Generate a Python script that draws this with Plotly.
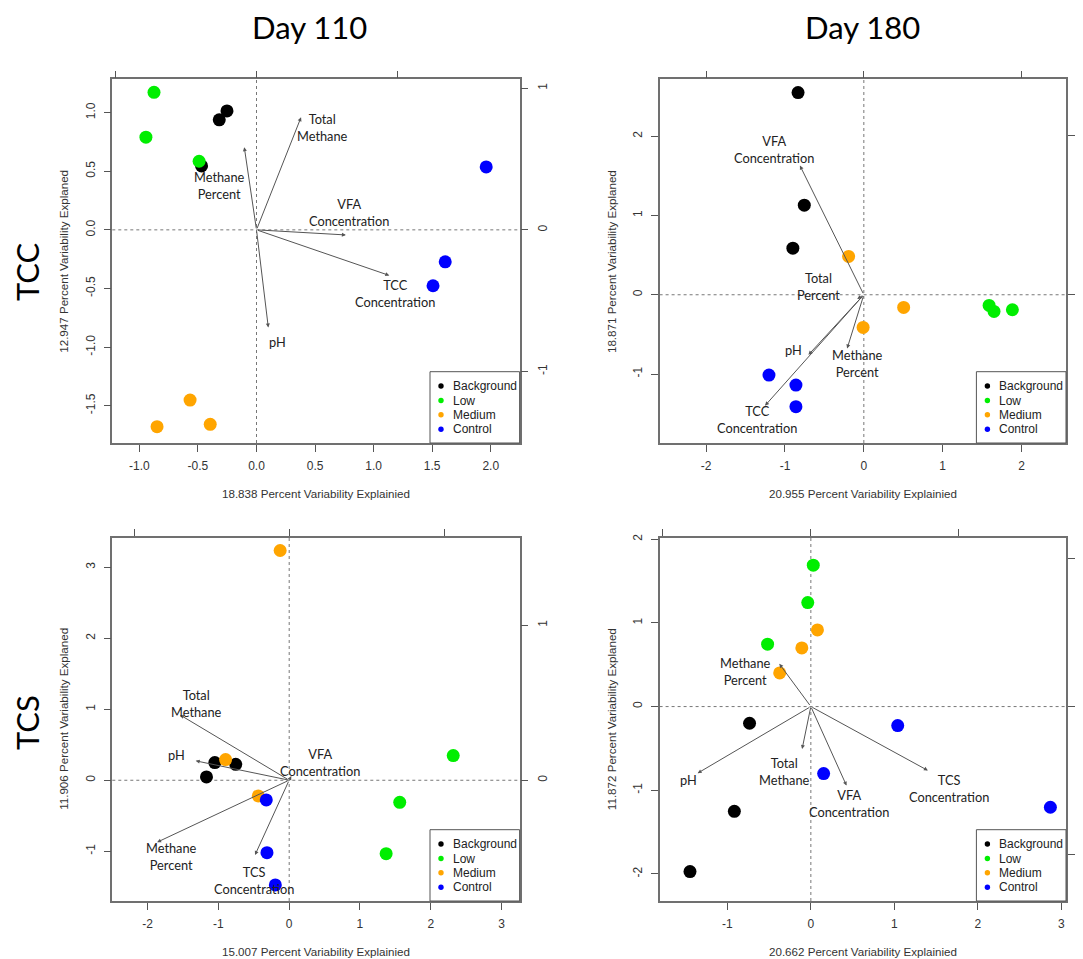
import plotly.graph_objects as go

# ---------------- data ----------------
groups = ["Background", "Low", "Medium", "Control"]
sample_group = ["Background"] * 3 + ["Low"] * 3 + ["Medium"] * 3 + ["Control"] * 3

# TCC, Day 110 (sample scores)
tcc110_pc1 = [-0.252, -0.318, -0.469, -0.875, -0.944, -0.490, -0.567, -0.849, -0.395, 1.961, 1.611, 1.507]
tcc110_pc2 = [1.014, 0.938, 0.545, 1.173, 0.790, 0.585, -1.452, -1.679, -1.659, 0.537, -0.273, -0.477]
# TCC, Day 180
tcc180_pc1 = [-0.834, -0.755, -0.900, 1.589, 1.651, 1.884, -0.193, 0.505, -0.009, -1.203, -0.861, -0.861]
tcc180_pc2 = [2.550, 1.130, 0.588, -0.134, -0.210, -0.189, 0.483, -0.160, -0.412, -1.013, -1.139, -1.412]
# TCS, Day 110
tcs110_pc1 = [-1.051, -0.756, -1.169, 2.318, 1.562, 1.370, -0.128, -0.899, -0.437, -0.324, -0.314, -0.196]
tcs110_pc2 = [0.249, 0.225, 0.047, 0.347, -0.310, -1.033, 3.235, 0.291, -0.221, -0.277, -1.019, -1.474]
# TCS, Day 180
tcs180_pc1 = [-0.734, -0.916, -1.447, 0.029, -0.037, -0.518, 0.079, -0.108, -0.373, 1.040, 0.153, 2.868]
tcs180_pc2 = [-0.199, -1.251, -1.972, 1.689, 1.243, 0.745, 0.916, 0.701, 0.402, -0.227, -0.801, -1.203]

# variable loadings (secondary top/right axes)
tcc110_vars = ["Total<br>Methane", "Methane<br>Percent", "VFA<br>Concentration", "TCC<br>Concentration", "pH"]
tcc110_load1 = [0.317, -0.087, 0.636, 0.945, 0.084]
tcc110_load2 = [0.795, 0.584, -0.036, -0.322, -0.689]

tcc180_vars = ["Total<br>Percent", "Methane<br>Percent", "VFA<br>Concentration", "TCC<br>Concentration", "pH"]
tcc180_load1 = [-0.042, -0.106, -0.406, -0.628, -0.352]
tcc180_load2 = [-0.027, -0.338, 0.813, -0.698, -0.378]

tcs110_vars = ["Total<br>Methane", "Methane<br>Percent", "VFA<br>Concentration", "TCS<br>Concentration", "pH"]
tcs110_load1 = [-0.704, -0.852, 0.014, -0.220, -0.603]
tcs110_load2 = [0.421, -0.400, 0.027, -0.482, 0.125]

tcs180_vars = ["Total<br>Methane", "Methane<br>Percent", "VFA<br>Concentration", "TCS<br>Concentration", "pH"]
tcs180_load1 = [-0.059, -0.213, 0.241, 0.791, -0.765]
tcs180_load2 = [-0.287, 0.289, -0.535, -0.433, -0.451]

# axis titles
x_titles = ["18.838 Percent Variability Explainied", "20.955 Percent Variability Explainied",
            "15.007 Percent Variability Explainied", "20.662 Percent Variability Explainied"]
y_titles = ["12.947 Percent Variability Explaned", "18.871 Percent Variability Explaned",
            "11.906 Percent Variability Explaned", "11.872 Percent Variability Explaned"]
col_titles = ["Day 110", "Day 180"]
row_titles = ["TCC", "TCS"]

# tick values
tcc110_xticks = [-1.0, -0.5, 0.0, 0.5, 1.0, 1.5, 2.0]
tcc110_yticks = [-1.5, -1.0, -0.5, 0.0, 0.5, 1.0]
tcc180_xticks = [-2, -1, 0, 1, 2]
tcc180_yticks = [-1, 0, 1, 2]
tcs110_xticks = [-2, -1, 0, 1, 2, 3]
tcs110_yticks = [-1, 0, 1, 2, 3]
tcs180_xticks = [-1, 0, 1, 2, 3]
tcs180_yticks = [-2, -1, 0, 1, 2]
loading_ticks = [-1, 0, 1]

# ---------------- style / layout ----------------
W, H = 1083, 959
OFF = 8  # page body margin of the html page
colors = {"Background": "#000000", "Low": "#00ee00", "Medium": "#ffa500", "Control": "#0000ff"}
TXT = "Liberation Sans, Arial, sans-serif"
LBL = "Lato, Carlito, Calibri, sans-serif"


def pxx(v):
    return (v - OFF) / W


def pxy(v):
    return 1 - (v - OFF) / H


panels = [
    dict(pc1=tcc110_pc1, pc2=tcc110_pc2, vars=tcc110_vars, l1=tcc110_load1, l2=tcc110_load2,
         lab_x=[0.564, -0.320, 0.786, 1.181, 0.175], lab_y=[0.872, 0.375, 0.148, -0.540, -0.960],
         xt=tcc110_xticks, yt=tcc110_yticks, fmt="{:.1f}", right_labels=True,
         xr=[-1.231, 2.246], yr=[-1.818, 1.284], sxr=[-1.026, 1.872], syr=[-1.505, 1.063],
         box=(112.3, 519.6, 79.3, 443.0)),
    dict(pc1=tcc180_pc1, pc2=tcc180_pc2, vars=tcc180_vars, l1=tcc180_load1, l2=tcc180_load2,
         lab_x=[-0.575, -0.083, -1.137, -1.352, -0.896], lab_y=[0.101, -0.870, 1.836, -1.576, -0.693],
         xt=tcc180_xticks, yt=tcc180_yticks, fmt="{:d}", right_labels=False,
         xr=[-2.590, 2.564], yr=[-1.870, 2.718], sxr=[-1.298, 1.285], syr=[-0.933, 1.356],
         box=(659.6, 1066.0, 79.3, 443.0)),
    dict(pc1=tcs110_pc1, pc2=tcs110_pc2, vars=tcs110_vars, l1=tcs110_load1, l2=tcs110_load2,
         lab_x=[-1.311, -1.660, 0.442, -0.491, -1.586], lab_y=[1.085, -1.080, 0.244, -1.413, 0.357],
         xt=tcs110_xticks, yt=tcs110_yticks, fmt="{:d}", right_labels=True,
         xr=[-2.500, 3.256], yr=[-1.700, 3.418], sxr=[-1.141, 1.487], syr=[-0.779, 1.565],
         box=(112.3, 519.6, 537.5, 901.0)),
    dict(pc1=tcs180_pc1, pc2=tcs180_pc2, vars=tcs180_vars, l1=tcs180_load1, l2=tcs180_load2,
         lab_x=[-0.311, -0.779, 0.452, 1.654, -1.463], lab_y=[-0.773, 0.422, -1.159, -0.976, -0.880],
         xt=tcs180_xticks, yt=tcs180_yticks, fmt="{:d}", right_labels=False,
         xr=[-1.811, 3.055], yr=[-2.323, 2.020], sxr=[-1.022, 1.724], syr=[-1.316, 1.144],
         box=(659.6, 1066.0, 537.5, 901.0)),
]


def fmt_tick(v, fmt):
    s = fmt.format(v) if fmt != "{:d}" else str(int(v))
    return s.replace("\u2212", "-")


axis_common = dict(showgrid=False, zeroline=False, showline=True, linecolor="#707070", linewidth=1.5,
                   ticks="outside", ticklen=7, tickwidth=1, tickcolor="#555555",
                   tickfont=dict(family=TXT, size=12, color="#333333"), automargin=False)

fig = go.Figure()
layout = {}
annotations = []
shapes = []

# legend geometry relative to the plot box bottom-right corner (pixels)
LEG_W, LEG_H = 89.6, 71.3
LEG_DOT_DX, LEG_TXT_DX, LEG_DOT_R = 78.6, 68.6, 2.7
LEG_ROWS = [57.0, 42.5, 28.2, 13.8]

for i, p in enumerate(panels):
    xid = "x" if i == 0 else f"x{i+1}"
    yid = "y" if i == 0 else f"y{i+1}"
    sxid, syid = f"x{i+5}", f"y{i+5}"
    xkey = "xaxis" if i == 0 else f"xaxis{i+1}"
    ykey = "yaxis" if i == 0 else f"yaxis{i+1}"
    left, right, top, bottom = p["box"]
    dx = [pxx(left), pxx(right)]
    dy = [pxy(bottom), pxy(top)]

    layout[xkey] = dict(axis_common, domain=dx, anchor=yid, range=p["xr"], side="bottom",
                        tickvals=p["xt"], ticktext=[fmt_tick(v, p["fmt"]) for v in p["xt"]],
                        ticklabelstandoff=4)
    layout[ykey] = dict(axis_common, domain=dy, anchor=xid, range=p["yr"], side="left",
                        tickvals=p["yt"], ticktext=[fmt_tick(v, p["fmt"]) for v in p["yt"]],
                        tickangle=-90, ticklabelstandoff=4)
    layout[f"xaxis{i+5}"] = dict(axis_common, overlaying=xid, anchor=yid, side="top", range=p["sxr"],
                                 tickvals=loading_ticks, showticklabels=False)
    layout[f"yaxis{i+5}"] = dict(axis_common, overlaying=yid, anchor=xid, side="right", range=p["syr"],
                                 tickvals=loading_ticks, ticktext=[str(v) for v in loading_ticks],
                                 showticklabels=p["right_labels"], tickangle=-90, ticklabelstandoff=4)

    # sample scores
    for g in groups:
        xs = [v for v, s in zip(p["pc1"], sample_group) if s == g]
        ys = [v for v, s in zip(p["pc2"], sample_group) if s == g]
        fig.add_trace(go.Scatter(x=xs, y=ys, mode="markers", xaxis=xid, yaxis=yid, showlegend=False,
                                 marker=dict(size=13, color=colors[g], line=dict(width=0)), name=g))
    # placeholder on loading axes
    fig.add_trace(go.Scatter(x=[None], y=[None], mode="markers", xaxis=sxid, yaxis=syid, showlegend=False,
                             hoverinfo="skip"))

    # dotted zero lines
    shapes.append(dict(type="line", xref=xid, yref=f"{yid} domain", x0=0, x1=0, y0=0, y1=1,
                       line=dict(color="#777777", width=1, dash="dot"), layer="below"))
    shapes.append(dict(type="line", xref=f"{xid} domain", yref=yid, x0=0, x1=1, y0=0, y1=0,
                       line=dict(color="#777777", width=1, dash="dot"), layer="below"))

    # loading arrows
    for lx, ly in zip(p["l1"], p["l2"]):
        annotations.append(dict(x=lx, y=ly, ax=0, ay=0, xref=sxid, yref=syid, axref=sxid, ayref=syid,
                                text="", showarrow=True, arrowhead=2, arrowsize=0.8, arrowwidth=1,
                                arrowcolor="#555555", standoff=0, startstandoff=0, font=dict(size=1)))
    # variable labels
    for name, tx, ty in zip(p["vars"], p["lab_x"], p["lab_y"]):
        annotations.append(dict(x=tx, y=ty, xref=xid, yref=yid, text=name, showarrow=False,
                                font=dict(family=LBL, size=12.8, color="#222222"), align="center"))

    # legend box (bottom-right of each panel)
    shapes.append(dict(type="rect", xref="paper", yref="paper",
                       x0=pxx(right - LEG_W), x1=pxx(right), y0=pxy(bottom), y1=pxy(bottom - LEG_H),
                       line=dict(color="#555555", width=1), fillcolor="white", layer="above"))
    for g, row in zip(groups, LEG_ROWS):
        cy = bottom - row
        cx = right - LEG_DOT_DX
        shapes.append(dict(type="circle", xref="paper", yref="paper",
                           x0=pxx(cx - LEG_DOT_R), x1=pxx(cx + LEG_DOT_R),
                           y0=pxy(cy + LEG_DOT_R), y1=pxy(cy - LEG_DOT_R),
                           line=dict(width=0), fillcolor=colors[g], layer="above"))
        annotations.append(dict(x=pxx(right - LEG_TXT_DX), y=pxy(cy), xref="paper", yref="paper",
                                text=g, showarrow=False, xanchor="left", yanchor="middle",
                                font=dict(family=TXT, size=12, color="#222222")))

    # axis titles
    annotations.append(dict(x=pxx((left + right) / 2), y=pxy(bottom + 50.5), xref="paper", yref="paper",
                            text=x_titles[i], showarrow=False, xanchor="center", yanchor="middle",
                            font=dict(family=TXT, size=11.6, color="#333333")))
    annotations.append(dict(x=pxx(left - 48.7), y=pxy((top + bottom) / 2), xref="paper", yref="paper",
                            text=y_titles[i], showarrow=False, xanchor="center", yanchor="middle",
                            textangle=-90, font=dict(family=TXT, size=11.6, color="#333333")))

# column and row titles
col_centers = [309.5, 862.0]
for j, t in enumerate(col_titles):
    annotations.append(dict(x=pxx(col_centers[j]), y=pxy(27), xref="paper", yref="paper", text=t,
                            showarrow=False, xanchor="center", yanchor="middle",
                            font=dict(family=LBL, size=31, color="#000000")))
row_centers = [272, 723]
for j, t in enumerate(row_titles):
    annotations.append(dict(x=pxx(27), y=pxy(row_centers[j]), xref="paper", yref="paper", text=t,
                            showarrow=False, textangle=-90, xanchor="center", yanchor="middle",
                            font=dict(family=LBL, size=31, color="#000000")))

fig.update_layout(**layout)
fig.update_layout(width=W, height=H, margin=dict(l=0, r=0, t=0, b=0), plot_bgcolor="white",
                  paper_bgcolor="white", annotations=annotations, shapes=shapes, showlegend=False)
fig.write_html("out.html")
